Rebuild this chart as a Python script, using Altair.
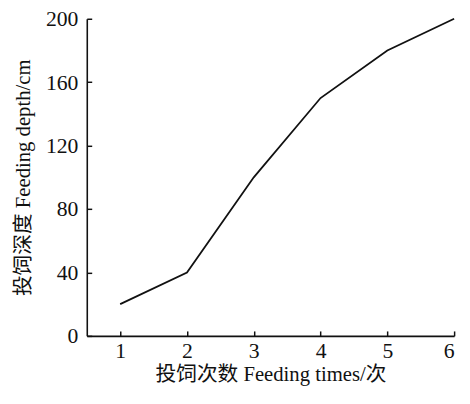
import altair as alt
import pandas as pd

times = [1, 2, 3, 4, 5, 6]
depth = [20, 40, 100, 150, 180, 200]
x_ticks = [1, 2, 3, 4, 5, 6]
y_ticks = [0, 40, 80, 120, 160, 200]

df = pd.DataFrame({"t": times, "d": depth})

W, H = 373, 322
FONT = "Liberation Serif, Times New Roman, Noto Sans CJK SC"
INK = "#111111"

xscale = alt.Scale(domain=[0.5, 6], nice=False, zero=False)
yscale = alt.Scale(domain=[0, 200], nice=False)

line = alt.Chart(df).mark_line(color=INK, strokeWidth=1.8).encode(
    x=alt.X("t:Q", scale=xscale,
            axis=alt.Axis(title="投饲次数 Feeding times/次", values=x_ticks, ticks=False, format="d",
                          labelPadding=5, titlePadding=2, grid=False, orient="bottom")),
    y=alt.Y("d:Q", scale=yscale,
            axis=alt.Axis(title="投饲深度 Feeding depth/cm", values=y_ticks, ticks=False, format="d",
                          labelPadding=9, titlePadding=12, grid=False, orient="left")),
)

# inward-pointing tick marks drawn by extra axes placed on the plot edges
ticks = alt.Chart(df).mark_line(opacity=0).encode(
    x=alt.X("t:Q", scale=xscale,
            axis=alt.Axis(title=None, values=x_ticks, labels=False, domain=False, grid=False,
                          ticks=True, tickSize=5, tickWidth=1.5, tickColor=INK,
                          orient="top", offset=-H)),
    y=alt.Y("d:Q", scale=yscale,
            axis=alt.Axis(title=None, values=y_ticks, labels=False, domain=False, grid=False,
                          ticks=True, tickSize=5, tickWidth=1.5, tickColor=INK,
                          orient="right", offset=-W)),
)

chart = alt.layer(line, ticks).resolve_axis(x="independent", y="independent").properties(
    width=W, height=H,
    autosize=alt.AutoSizeParams(type="none"),
    padding={"left": 80, "top": 8, "right": 8, "bottom": 50},
).configure_view(stroke=None).configure_axis(
    domainColor=INK, domainWidth=1.6,
    labelFont=FONT, titleFont=FONT, labelFontSize=22, titleFontSize=21,
    labelColor=INK, titleColor=INK, titleFontWeight="normal",
)

chart.save("out.html", embed_options={"renderer": "svg", "actions": False})
